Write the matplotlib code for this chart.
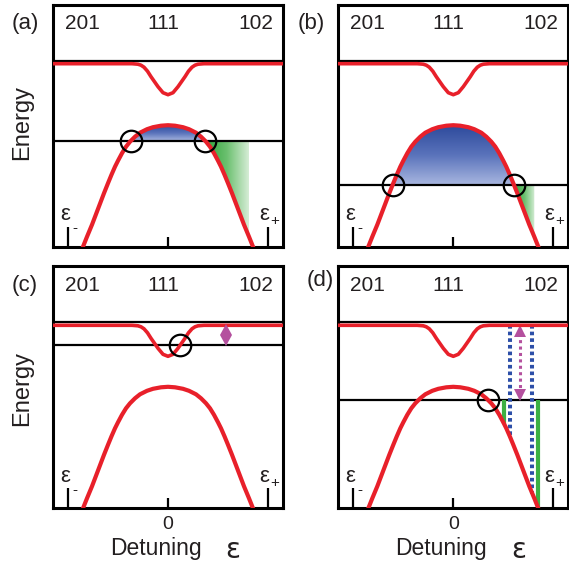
import numpy as np
import matplotlib
matplotlib.use("Agg")
import matplotlib.pyplot as plt
from matplotlib.patches import Polygon
from matplotlib.colors import LinearSegmentedColormap
from matplotlib.transforms import offset_copy

plt.rcParams['font.family'] = ['Liberation Sans', 'DejaVu Sans']

# ---------------- data ----------------
# lower energy band (x >= 0 half, mirrored for x < 0)
band_x_half = [0.00, 0.07, 0.15, 0.21, 0.28, 0.33, 0.38, 0.42, 0.46, 0.50,
               0.53, 0.565, 0.60, 0.64, 0.68, 0.72, 0.76, 0.81, 0.85, 0.90]
band_y_half = [1.215, 1.21, 1.195, 1.175, 1.14, 1.10, 1.05, 1.00, 0.935, 0.86,
               0.80, 0.72, 0.635, 0.535, 0.43, 0.325, 0.22, 0.10, 0.0, -0.12]
# upper band with dip at 111 (x >= 0 half)
dip_x_half = [0.00, 0.05, 0.10, 0.135, 0.17, 0.205, 0.24, 0.27, 0.30, 0.36, 1.30]
dip_y_half = [1.52, 1.54, 1.60, 1.65, 1.70, 1.755, 1.795, 1.815, 1.825, 1.83, 1.83]

panels = ['(a)', '(b)', '(c)', '(d)']
line_levels = [1.06, 0.62, 1.63, 1.08]        # black horizontal line per panel
separator_level = 1.86
charge_labels = ['201', '111', '102']
charge_label_x = [-0.855, -0.05, 0.88]
charge_label_y = 2.23
green_end = 0.81                              # right end of green shading (a,b)
diamond_xy = (0.58, 1.73)                     # panel (c)
blue_dot_x = [0.57, 0.79]                     # panel (d)
green_bar_x = [0.51, 0.85]                    # panel (d)
arrow_x = 0.67                                # panel (d)
eps_ticks = [-1.0, 1.0]
zero_tick = [0.0]

# ---------------- styling ----------------
RED = '#e8202a'
TXT = '#231f20'
BLUE_DOT = '#2d4fa8'
MAG = '#b4509e'
GREEN = '#3cb043'

W, H = 569, 567
fig = plt.figure(figsize=(W / 100, H / 100), dpi=100)

col_left = [53 / W, 338.3 / W]
row_bottom = [(H - 246.7) / H, (H - 508.3) / H]
aw, ah = 230 / W, 242 / H

bx_half = np.array(band_x_half)
by_half = np.array(band_y_half)
band_x = np.concatenate([-bx_half[::-1], bx_half[1:]])
band_y = np.concatenate([by_half[::-1], by_half[1:]])
dx_half = np.array(dip_x_half)
dy_half = np.array(dip_y_half)
dip_x = np.concatenate([-dx_half[::-1], dx_half[1:]])
dip_y = np.concatenate([dy_half[::-1], dy_half[1:]])


def band(x):
    return np.interp(np.abs(x), bx_half, by_half)


blue_cmap = LinearSegmentedColormap.from_list('bl', ['#a9b7e0', '#5a73bb', '#2d4a9c'])
green_cmap = LinearSegmentedColormap.from_list('gr', ['#2ea63a', '#6cc070', '#d6edd6'])

positions = [(0, 0), (1, 0), (0, 1), (1, 1)]
for i, (c, r) in enumerate(positions):
    ax = fig.add_axes([col_left[c], row_bottom[r], aw, ah])
    lvl = line_levels[i]
    # crossing of the band with the horizontal line
    xr = np.interp(lvl, by_half[::-1], bx_half[::-1])

    if i in (0, 1):
        # blue gradient between band and line
        m = (np.abs(band_x) < xr)
        pts = [(-xr, lvl)] + list(zip(band_x[m], band_y[m])) + [(xr, lvl)]
        poly = Polygon(pts, closed=True, facecolor='none', edgecolor='none')
        ax.add_patch(poly)
        grad = np.linspace(0, 1, 256).reshape(-1, 1)
        im = ax.imshow(grad, cmap=blue_cmap, origin='lower', aspect='auto',
                       extent=[-xr, xr, lvl, max(band_y)], interpolation='bilinear', zorder=1)
        im.set_clip_path(poly)
        # green gradient right of crossing
        gx = np.linspace(xr, green_end, 60)
        gpts = [(xr, lvl), (green_end, lvl)] + list(zip(gx[::-1], band(gx[::-1])))
        gpoly = Polygon(gpts, closed=True, facecolor='none', edgecolor='none')
        ax.add_patch(gpoly)
        ggrad = np.linspace(0, 1, 256).reshape(1, -1)
        gim = ax.imshow(ggrad, cmap=green_cmap, origin='lower', aspect='auto',
                        extent=[xr, green_end, band(green_end), lvl],
                        interpolation='bilinear', zorder=1)
        gim.set_clip_path(gpoly)

    # separator + horizontal line
    ax.axhline(separator_level, color='black', lw=1.6, zorder=2)
    ax.axhline(lvl, color='black', lw=1.6, zorder=2)

    if i == 3:
        top = dip_y_half[-1]
        for gxv in green_bar_x:
            ax.plot([gxv, gxv], [lvl, band(gxv)], color=GREEN, lw=3.0,
                    solid_capstyle='butt', zorder=2)
        for bxv in blue_dot_x:
            ax.plot([bxv, bxv], [top, band(bxv)], color=BLUE_DOT, lw=2.9,
                    linestyle=(0, (0.9, 0.75)), zorder=3)
        # dotted double arrow
        ax.plot([arrow_x, arrow_x], [lvl + 0.06, top - 0.06], color=MAG, lw=2.2,
                linestyle=(0, (1.0, 1.1)), zorder=4)
        t_up = offset_copy(ax.transData, fig=fig, x=0, y=-5.5, units='dots')
        t_dn = offset_copy(ax.transData, fig=fig, x=0, y=5.5, units='dots')
        ax.plot([arrow_x], [top], marker='^', color=MAG, ms=8.5, mew=0,
                transform=t_up, zorder=4)
        ax.plot([arrow_x], [lvl], marker='v', color=MAG, ms=8.5, mew=0,
                transform=t_dn, zorder=4)

    # red curves
    ax.plot(dip_x, dip_y, color=RED, lw=2.6, zorder=5, solid_capstyle='butt')
    ax.plot(band_x, band_y, color=RED, lw=3.0, zorder=5)

    # circles
    if i in (0, 1):
        ax.plot([-xr, xr], [lvl, lvl], 'o', mfc='none', mec='black', ms=15.5, mew=1.6, zorder=6)
    elif i == 3:
        ax.plot([xr], [lvl], 'o', mfc='none', mec='black', ms=15.5, mew=1.6, zorder=6)
    else:
        xc = np.interp(lvl, dy_half[:-1], dx_half[:-1])
        ax.plot([xc], [lvl], 'o', mfc='none', mec='black', ms=15.5, mew=1.6, zorder=6)
        ax.plot([diamond_xy[0]], [diamond_xy[1]], marker='d', color=MAG, ms=11, mew=0, zorder=6)

    # charge state labels
    for lab, lx in zip(charge_labels, charge_label_x):
        ax.text(lx, charge_label_y, lab, ha='center', va='center', fontsize=15, color=TXT)

    # epsilon labels
    ax.text(-1.03, 0.267, 'ε', ha='center', va='baseline', fontsize=16, color=TXT)
    ax.text(-0.933, 0.187, '-', ha='center', va='center', fontsize=11, color=TXT)
    ax.text(0.962, 0.267, 'ε', ha='center', va='baseline', fontsize=16, color=TXT)
    ax.text(1.067, 0.257, '+', ha='center', va='center', fontsize=11, color=TXT)

    ax.set_xlim(-1.15, 1.15)
    ax.set_ylim(0, 2.42)
    ax.set_yticks([])
    ax.set_xticks(eps_ticks)
    ax.set_xticklabels([])
    ax.set_xticks(zero_tick, minor=True)
    if r == 1:
        ax.set_xticklabels(['0'], minor=True)
        ax.text(-0.12, -0.467, 'Detuning', ha='center', va='baseline', fontsize=16.5,
                color=TXT, clip_on=False)
        ax.text(0.65, -0.50, 'ε', ha='center', va='baseline', fontsize=20,
                color=TXT, clip_on=False, family='DejaVu Sans')
    else:
        ax.set_xticklabels([], minor=True)
    ax.tick_params(axis='x', which='major', direction='in', length=14.4, width=1.6,
                   color='black')
    ax.tick_params(axis='x', which='minor', direction='in', length=7.2, width=1.6,
                   color='black', pad=5.5, labelsize=14, labelcolor=TXT)
    for sp in ax.spines.values():
        sp.set_linewidth(2.2)
    ax.patch.set_alpha(0)

# panel letters and Energy labels
letter_pos = [(25.5, 23), (311, 23), (25, 285), (320.5, 281)]
for lab, (px, py) in zip(panels, letter_pos):
    fig.text(px / W, 1 - py / H, lab, ha='center', va='center', fontsize=16, color=TXT)
for py in (122.5, 388):
    fig.text(22.5 / W, 1 - py / H, 'Energy', rotation=90, ha='center', va='center',
             fontsize=17, color=TXT)

fig.savefig('out.png', dpi=100)
